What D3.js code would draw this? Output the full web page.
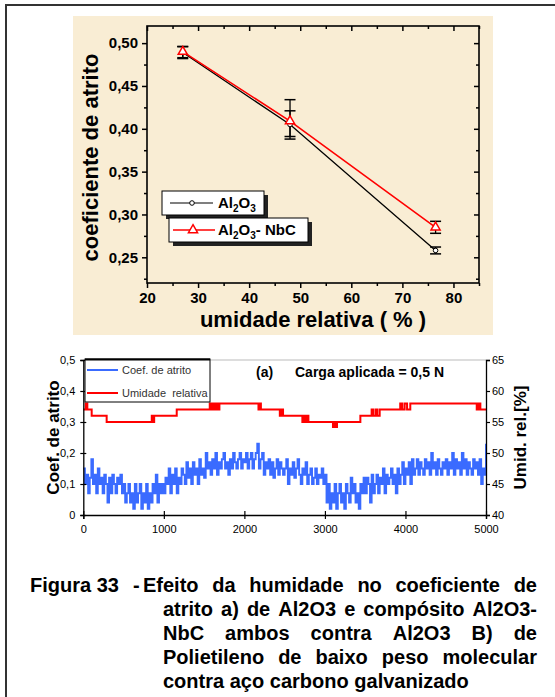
<!DOCTYPE html>
<html>
<head>
<meta charset="utf-8">
<script src="https://cdn.jsdelivr.net/npm/d3@7"></script>
<style>
  body { margin: 0; background: #fff; }
  svg { display: block; font-family: Arial, "Liberation Sans", sans-serif; }
</style>
</head>
<body>
<svg id="fig" width="555" height="697"></svg>
<script>
// ---- top chart: coeficiente de atrito x umidade relativa ----
const humidity = [27, 48, 76.5]
const coefAl2O3 = [0.489, 0.405, 0.258]
const errAl2O3Lo = [0.482, 0.388, 0.254]
const errAl2O3Hi = [0.496, 0.421, 0.262]
const coefNbC = [0.490, 0.409, 0.285]
const errNbCLo = [0.483, 0.391, 0.278]
const errNbCHi = [0.496, 0.434, 0.292]
const topXTicks = [20, 30, 40, 50, 60, 70, 80]
const topXMinor = [25, 35, 45, 55, 65, 75, 85]
const topYTicks = [0.25, 0.30, 0.35, 0.40, 0.45, 0.50]
const topYMinor = [0.225, 0.275, 0.325, 0.375, 0.425, 0.475]

// ---- bottom chart: coef. de atrito / umidade vs tempo ----
// friction coefficient sampled every 20 units, read off the trace
const frictionStep = 20
const friction = [
  0.15,0.10,0.13,0.07,0.12,0.18,0.10,0.13,0.07,0.15,0.10,0.12,0.07,0.13,0.10,0.04,0.12,0.07,0.13,0.10,0.07,0.12,0.10,0.13,0.07,
  0.10,0.04,0.07,0.10,0.04,0.07,0.02,0.10,0.04,0.07,0.10,0.02,0.07,0.04,0.10,0.02,0.07,0.04,0.10,0.07,0.13,0.04,0.10,0.07,0.10,
  0.07,0.12,0.10,0.15,0.07,0.13,0.10,0.15,0.07,0.12,0.10,0.15,0.13,0.10,0.17,0.12,0.15,0.10,0.17,0.13,0.15,0.10,0.18,0.13,0.15,
  0.12,0.20,0.15,0.17,0.13,0.18,0.15,0.20,0.13,0.17,0.15,0.18,0.20,0.15,0.17,0.13,0.18,0.15,0.20,0.17,0.15,0.18,0.20,0.15,0.18,
  0.17,0.20,0.15,0.18,0.20,0.15,0.18,0.20,0.23,0.15,0.18,0.20,0.13,0.17,0.15,0.18,0.13,0.17,0.12,0.15,0.18,0.13,0.17,0.15,0.13,
  0.15,0.18,0.10,0.15,0.13,0.17,0.12,0.15,0.18,0.13,0.10,0.15,0.13,0.17,0.10,0.13,0.15,0.10,0.12,0.15,0.10,0.13,0.12,0.15,0.10,
  0.13,0.04,0.10,0.02,0.07,0.04,0.10,0.02,0.07,0.10,0.04,0.07,0.02,0.10,0.07,0.04,0.12,0.07,0.10,0.04,0.07,0.02,0.10,0.07,0.12,
  0.07,0.12,0.10,0.04,0.13,0.07,0.10,0.13,0.07,0.12,0.10,0.15,0.07,0.13,0.10,0.12,0.15,0.10,0.13,0.07,0.15,0.10,0.13,0.17,0.10,
  0.15,0.13,0.17,0.10,0.18,0.13,0.15,0.18,0.13,0.17,0.15,0.13,0.18,0.15,0.17,0.13,0.20,0.15,0.17,0.13,0.18,0.15,0.13,0.17,0.15,
  0.18,0.13,0.17,0.15,0.20,0.13,0.18,0.15,0.17,0.13,0.20,0.15,0.18,0.13,0.17,0.15,0.13,0.18,0.15,0.17,0.13,0.18,0.10,0.15,0.13,0.23
]
// relative humidity, stepwise (value holds until next time)
const redTime = [0,30,50,104,290,850,865,880,1160,1570,1590,1610,1630,1650,1670,1690,2175,2190,2205,2440,2460,2480,2720,2740,2760,2780,2795,3100,3120,3135,3150,3440,3580,3600,3630,3650,3680,3935,3960,3990,4020,4060,4885,4905,4930,5000]
const redHumidity = [57,58,57,56,55,56,55,56,57,58,57,58,57,58,57,58,57,58,57,56,57,56,55,56,55,56,55,54.2,55,54.2,55,56,57,56,57,56,57,58,57,58,57,58,57,58,57,57]
const botXTicks = [0, 1000, 2000, 3000, 4000, 5000]
const botYLTicks = [0, 0.1, 0.2, 0.3, 0.4, 0.5]
const botYRTicks = [40, 45, 50, 55, 60, 65]

const captionLabel = ["Figura", "33", "-"]
const captionLines = [
  "Efeito da humidade no coeficiente de",
  "atrito a) de Al2O3 e compósito Al2O3-",
  "NbC ambos contra Al2O3 B) de",
  "Polietileno de baixo peso molecular",
  "contra aço carbono galvanizado"
]

const svg = d3.select("#fig")
const FONT = "Arial, 'Liberation Sans', sans-serif"

// page frame
svg.append("line").attr("x1", 6).attr("x2", 555).attr("y1", 5).attr("y2", 5)
  .attr("stroke", "#333").attr("stroke-width", 2)
svg.append("line").attr("x1", 6).attr("x2", 6).attr("y1", 4).attr("y2", 697)
  .attr("stroke", "#333").attr("stroke-width", 2)

// ================= TOP CHART =================
const topBox = { left: 147, right: 479, top: 26, bottom: 283 }
svg.append("rect").attr("x", 73).attr("y", 16).attr("width", 420).attr("height", 319)
  .attr("fill", "#f9edd4")

const xT = d3.scaleLinear().domain([20, 85]).range([topBox.left, topBox.right])
const yT = d3.scaleLinear().domain([0.22, 0.52]).range([topBox.bottom, topBox.top])

const gT = svg.append("g")
const comma = d => d.toFixed(2).replace(".", ",")

function styleAxis(g) {
  g.select(".domain").remove()
  g.selectAll(".tick line").attr("stroke", "#000").attr("stroke-width", 1.5)
  g.selectAll("text").attr("font-size", 15).attr("font-weight", "bold").attr("fill", "#000")
    .attr("font-family", FONT)
}

gT.append("g").attr("transform", `translate(${topBox.left},0)`)
  .call(d3.axisLeft(yT).tickValues(topYTicks).tickSize(5).tickPadding(4).tickFormat(comma))
  .call(styleAxis)
gT.append("g").attr("transform", `translate(${topBox.left},0)`)
  .call(d3.axisLeft(yT).tickValues(topYMinor).tickSize(3).tickFormat(""))
  .call(styleAxis)
gT.append("g").attr("transform", `translate(${topBox.right},0)`)
  .call(d3.axisRight(yT).tickValues(topYTicks).tickSize(-5).tickFormat(""))
  .call(styleAxis)
gT.append("g").attr("transform", `translate(${topBox.right},0)`)
  .call(d3.axisRight(yT).tickValues(topYMinor).tickSize(-3).tickFormat(""))
  .call(styleAxis)
gT.append("g").attr("transform", `translate(0,${topBox.bottom})`)
  .call(d3.axisBottom(xT).tickValues(topXTicks).tickSize(5).tickPadding(4).tickFormat(d3.format("d")))
  .call(styleAxis)
gT.append("g").attr("transform", `translate(0,${topBox.bottom})`)
  .call(d3.axisBottom(xT).tickValues(topXMinor).tickSize(3).tickFormat(""))
  .call(styleAxis)
gT.append("g").attr("transform", `translate(0,${topBox.top})`)
  .call(d3.axisTop(xT).tickValues(topXTicks).tickSize(-5).tickFormat(""))
  .call(styleAxis)
gT.append("g").attr("transform", `translate(0,${topBox.top})`)
  .call(d3.axisTop(xT).tickValues(topXMinor).tickSize(-3).tickFormat(""))
  .call(styleAxis)

gT.append("rect").attr("x", topBox.left).attr("y", topBox.top)
  .attr("width", topBox.right - topBox.left).attr("height", topBox.bottom - topBox.top)
  .attr("fill", "none").attr("stroke", "#000").attr("stroke-width", 1.6)

// axis titles
gT.append("text")
  .attr("transform", `translate(90,${(topBox.top + topBox.bottom) / 2 + 3}) rotate(-90)`)
  .attr("text-anchor", "middle").attr("dy", "0.35em")
  .attr("font-size", 22).attr("font-weight", "bold").text("coeficiente de atrito")
gT.append("text")
  .attr("x", (topBox.left + topBox.right) / 2).attr("y", 327)
  .attr("text-anchor", "middle")
  .attr("font-size", 22).attr("font-weight", "bold").text("umidade relativa ( % )")

const al2o3 = humidity.map((h, i) => ({ x: h, y: coefAl2O3[i], lo: errAl2O3Lo[i], hi: errAl2O3Hi[i] }))
const nbc = humidity.map((h, i) => ({ x: h, y: coefNbC[i], lo: errNbCLo[i], hi: errNbCHi[i] }))

const lineT = d3.line().x(d => xT(d.x)).y(d => yT(d.y))

// error bars (all black)
;[al2o3, nbc].forEach(series => {
  const eb = gT.append("g").selectAll("g").data(series).join("g")
  eb.append("line").attr("x1", d => xT(d.x)).attr("x2", d => xT(d.x))
    .attr("y1", d => yT(d.lo)).attr("y2", d => yT(d.hi))
    .attr("stroke", "#000").attr("stroke-width", 1.3)
  ;["lo", "hi"].forEach(k => {
    eb.append("line").attr("x1", d => xT(d.x) - 5.5).attr("x2", d => xT(d.x) + 5.5)
      .attr("y1", d => yT(d[k])).attr("y2", d => yT(d[k]))
      .attr("stroke", "#000").attr("stroke-width", 1.5)
  })
})

gT.append("path").datum(al2o3).attr("d", lineT)
  .attr("fill", "none").attr("stroke", "#000").attr("stroke-width", 1.3)
gT.append("path").datum(nbc).attr("d", lineT)
  .attr("fill", "none").attr("stroke", "#ff0000").attr("stroke-width", 1.6)

gT.selectAll(".circ").data(al2o3).join("circle")
  .attr("cx", d => xT(d.x)).attr("cy", d => yT(d.y)).attr("r", 2.3)
  .attr("fill", "#fff").attr("stroke", "#000").attr("stroke-width", 1)
const tri = d3.symbol(d3.symbolTriangle).size(36)
gT.selectAll(".tri").data(nbc).join("path")
  .attr("transform", d => `translate(${xT(d.x)},${yT(d.y)})`)
  .attr("d", tri).attr("fill", "#fff").attr("stroke", "#ff0000").attr("stroke-width", 1.5)

// legends
function legendBox(x, y, w, h) {
  gT.append("rect").attr("x", x + 4).attr("y", y + 4).attr("width", w).attr("height", h).attr("fill", "#222")
  gT.append("rect").attr("x", x).attr("y", y).attr("width", w).attr("height", h)
    .attr("fill", "#fff").attr("stroke", "#000").attr("stroke-width", 1)
}
function formula(x, y, parts) {
  const txt = gT.append("text").attr("x", x).attr("y", y).attr("font-size", 15).attr("font-weight", "bold")
  parts.forEach(p => {
    if (p.sub) txt.append("tspan").attr("font-size", 10).attr("dy", 4).text(p.sub)
    else txt.append("tspan").attr("dy", p.after ? -4 : 0).text(p.t)
  })
}
legendBox(162, 191, 102, 24)
gT.append("line").attr("x1", 170).attr("x2", 213).attr("y1", 203).attr("y2", 203).attr("stroke", "#000").attr("stroke-width", 1.2)
gT.append("circle").attr("cx", 192).attr("cy", 203).attr("r", 2.3).attr("fill", "#fff").attr("stroke", "#000")
formula(218, 208, [{ t: "Al" }, { sub: "2" }, { t: "O", after: true }, { sub: "3" }])

legendBox(169, 218, 139, 24)
gT.append("line").attr("x1", 173).attr("x2", 215).attr("y1", 230).attr("y2", 230).attr("stroke", "#ff0000").attr("stroke-width", 1.6)
gT.append("path").attr("transform", "translate(193,230)").attr("d", tri)
  .attr("fill", "#fff").attr("stroke", "#ff0000").attr("stroke-width", 1.5)
formula(218, 235, [{ t: "Al" }, { sub: "2" }, { t: "O", after: true }, { sub: "3" }, { t: "- NbC", after: true }])

// ================= BOTTOM CHART =================
const botBox = { left: 83.3, right: 486, top: 360, bottom: 515 }
const xB = d3.scaleLinear().domain([0, 5000]).range([botBox.left, botBox.right])
const yL = d3.scaleLinear().domain([0, 0.5]).range([botBox.bottom, botBox.top])
const yR = d3.scaleLinear().domain([40, 65]).range([botBox.bottom, botBox.top])
const gB = svg.append("g")

gB.append("line").attr("x1", botBox.left).attr("x2", botBox.right).attr("y1", botBox.top).attr("y2", botBox.top)
  .attr("stroke", "#bbb").attr("stroke-width", 1)

const fricData = friction.map((v, i) => ({ t: i * frictionStep, v }))
gB.append("path").datum(fricData)
  .attr("d", d3.line().x(d => xB(d.t)).y(d => yL(d.v)).curve(d3.curveStepAfter))
  .attr("fill", "none").attr("stroke", "#3a6bff").attr("stroke-width", 1.9)

const humData = redTime.map((t, i) => ({ t, v: redHumidity[i] }))
gB.append("path").datum(humData)
  .attr("d", d3.line().x(d => xB(d.t)).y(d => yR(d.v)).curve(d3.curveStepAfter))
  .attr("fill", "none").attr("stroke", "#ff0000").attr("stroke-width", 2)

function styleSmall(g) {
  g.select(".domain").attr("stroke", "#000").attr("stroke-width", 1.3)
  g.selectAll(".tick line").attr("stroke", "#000").attr("stroke-width", 1.2)
  g.selectAll("text").attr("font-size", 11).attr("fill", "#000").attr("font-family", FONT)
}
const commaShort = d => d === 0 ? "0" : String(d).replace(".", ",")
gB.append("g").attr("transform", `translate(${botBox.left},0)`)
  .call(d3.axisLeft(yL).tickValues(botYLTicks).tickSizeOuter(0).tickSize(3).tickPadding(5).tickFormat(commaShort))
  .call(styleSmall)
  .selectAll(".tick line").attr("x2", -3).attr("x1", 3)
gB.append("g").attr("transform", `translate(${botBox.right},0)`)
  .call(d3.axisRight(yR).tickValues(botYRTicks).tickSizeOuter(0).tickSize(4).tickPadding(2).tickFormat(d3.format("d")))
  .call(styleSmall)
gB.append("g").attr("transform", `translate(0,${botBox.bottom})`)
  .call(d3.axisBottom(xB).tickValues(botXTicks).tickSizeOuter(0).tickSize(4).tickPadding(6).tickFormat(d3.format("d")))
  .call(styleSmall)
  .selectAll(".tick line").attr("y1", -4).attr("y2", 4)

gB.append("text")
  .attr("transform", `translate(53,${(botBox.top + botBox.bottom) / 2}) rotate(-90)`)
  .attr("text-anchor", "middle").attr("dy", "0.35em")
  .attr("font-size", 17).attr("font-weight", "bold").text("Coef. de atrito")
gB.append("text")
  .attr("transform", `translate(520,${(botBox.top + botBox.bottom) / 2}) rotate(-90)`)
  .attr("text-anchor", "middle").attr("dy", "0.35em")
  .attr("font-size", 17).attr("font-weight", "bold").text("Umid. rel.[%]")

// legend
gB.append("rect").attr("x", 85).attr("y", 359).attr("width", 125).attr("height", 43)
  .attr("fill", "#fff").attr("stroke", "#000").attr("stroke-width", 1)
gB.append("line").attr("x1", 85).attr("x2", 210).attr("y1", 359.5).attr("y2", 359.5).attr("stroke", "#000").attr("stroke-width", 2)
const legB = [{ name: "Coef. de atrito", color: "#3a6bff", y: 370 }, { name: "Umidade  relativa", color: "#ff0000", y: 393 }]
legB.forEach(l => {
  gB.append("line").attr("x1", 87).attr("x2", 118).attr("y1", l.y).attr("y2", l.y)
    .attr("stroke", l.color).attr("stroke-width", 2)
  gB.append("text").attr("x", 122).attr("y", l.y + 4).attr("font-size", 11).attr("fill", "#333")
    .style("white-space", "pre").text(l.name)
})

gB.append("text").attr("x", 256).attr("y", 377).attr("font-size", 14).attr("font-weight", "bold").text("(a)")
gB.append("text").attr("x", 295).attr("y", 377).attr("font-size", 14).attr("font-weight", "bold").text("Carga aplicada = 0,5 N")

// ================= CAPTION =================
const cap = svg.append("g").attr("font-size", 20).attr("font-weight", "bold").attr("fill", "#000")
cap.append("text").attr("x", 30).attr("y", 592).text(captionLabel.slice(0, 2).join(" "))
cap.append("text").attr("x", 133).attr("y", 592).text(captionLabel[2])
captionLines.forEach((line, i) => {
  const words = line.split(" ")
  const x0 = i === 0 ? 143 : 163
  const x1 = 537
  const y = 592 + i * 24
  const nodes = words.map(w => cap.append("text").attr("y", y).text(w))
  const widths = nodes.map(n => n.node().getComputedTextLength())
  const justify = i < captionLines.length - 1
  const gap = justify ? (x1 - x0 - d3.sum(widths)) / (words.length - 1) : 5.6
  let x = x0
  nodes.forEach((n, j) => { n.attr("x", x); x += widths[j] + gap })
})
</script>
</body>
</html>
